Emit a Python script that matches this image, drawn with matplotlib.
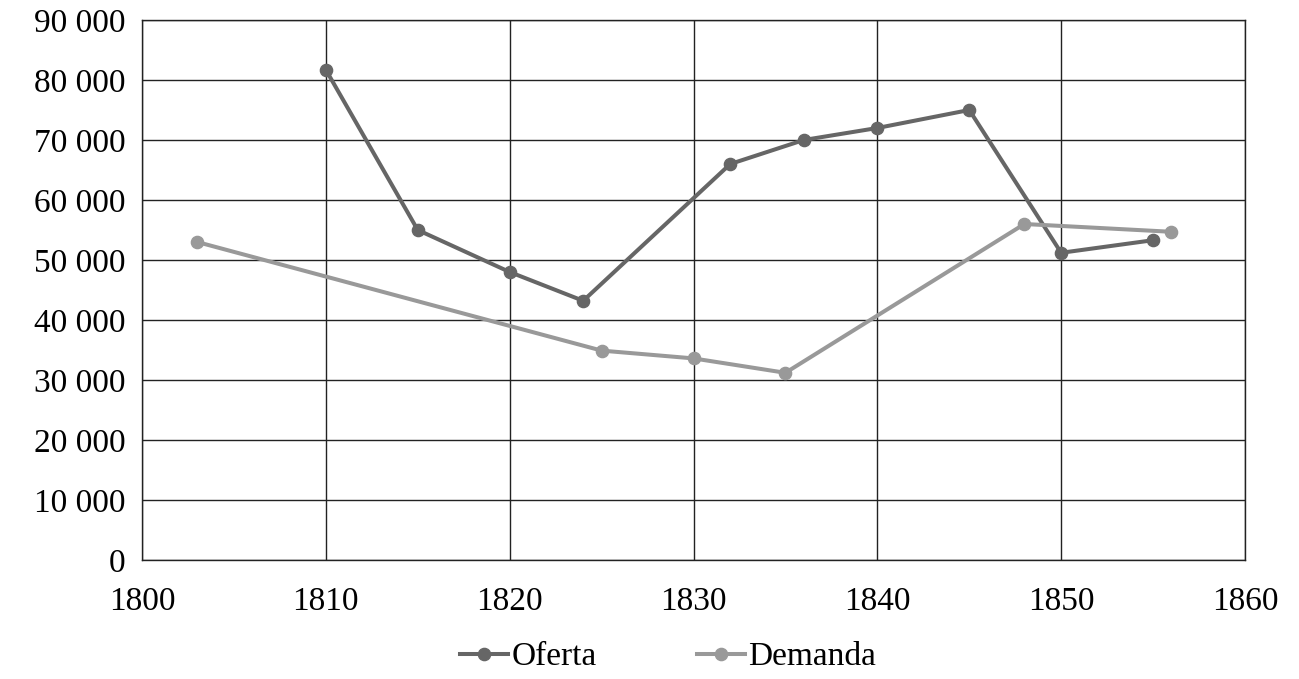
import matplotlib
matplotlib.use("Agg")
import matplotlib.pyplot as plt
from matplotlib.ticker import FuncFormatter

oferta_years = [1810, 1815, 1820, 1824, 1832, 1836, 1840, 1845, 1850, 1855]
oferta_values = [81700, 55000, 48000, 43200, 66000, 70000, 72000, 75000, 51200, 53300]
demanda_years = [1803, 1825, 1830, 1835, 1848, 1856]
demanda_values = [53000, 34900, 33600, 31200, 56000, 54700]
x_ticks = [1800, 1810, 1820, 1830, 1840, 1850, 1860]
y_ticks = [0, 10000, 20000, 30000, 40000, 50000, 60000, 70000, 80000, 90000]

plt.rcParams['font.family'] = ['Liberation Serif', 'DejaVu Serif']

fig = plt.figure(figsize=(12.99, 6.79), dpi=100)
ax = fig.add_axes([142/1299, 1-560/679, (1245-142)/1299, (560-20)/679])

ax.plot(oferta_years, oferta_values, color='#666666', lw=2.9, marker='o', ms=8.8,
        label='Oferta', zorder=3)
ax.plot(demanda_years, demanda_values, color='#999999', lw=2.9, marker='o', ms=8.8,
        label='Demanda', zorder=3)

ax.set_xlim(1800, 1860)
ax.set_ylim(0, 90000)
ax.set_xticks(x_ticks)
ax.set_yticks(y_ticks)
ax.yaxis.set_major_formatter(FuncFormatter(lambda v, p: f"{int(v):,}".replace(",", " ")))
ax.grid(True, color='#222222', lw=1.0)
ax.set_axisbelow(True)
for s in ax.spines.values():
    s.set_color('#222222')
    s.set_linewidth(1.0)
ax.tick_params(length=0, labelsize=24)
ax.tick_params(axis='x', pad=19)
ax.tick_params(axis='y', pad=12)

fig.legend(loc='center', bbox_to_anchor=(668/1299, 1-657/679), ncol=2, frameon=False,
           fontsize=24, handlelength=1.45, handletextpad=0.1, columnspacing=3.0)

fig.savefig('out.png', dpi=100)
